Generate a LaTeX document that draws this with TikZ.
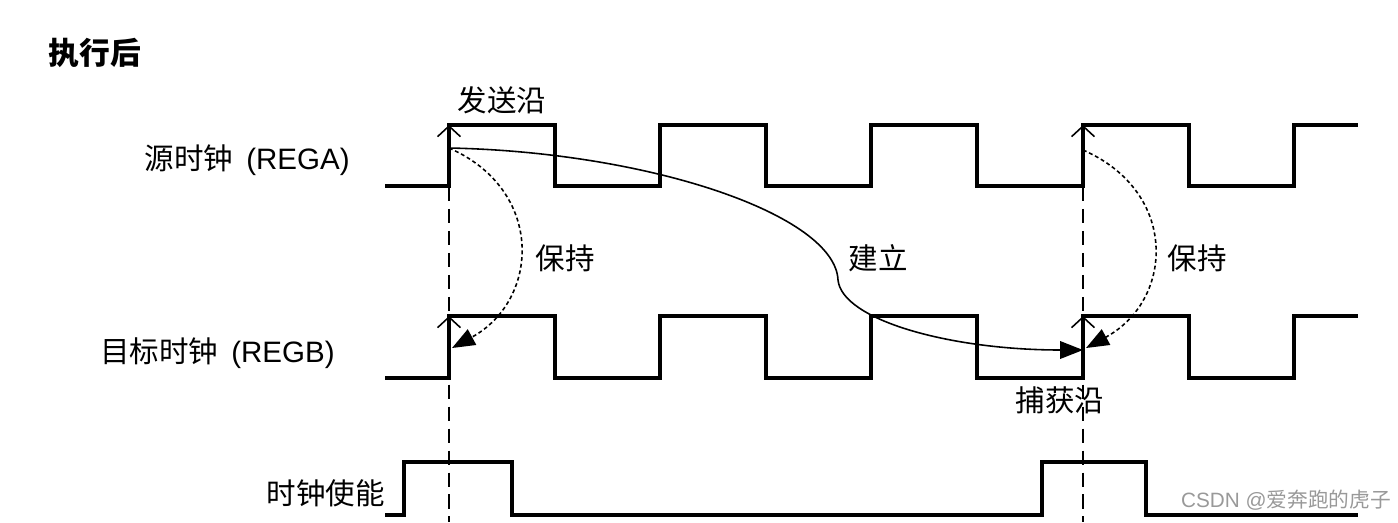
\documentclass[tikz,border=0pt]{standalone}
\usepackage{fontspec}
\setmainfont{Liberation Sans}
\newfontfamily\cjk{Noto Sans CJK SC}
\usetikzlibrary{arrows.meta,calc}

\begin{document}
\begin{tikzpicture}[x=0.02cm,y=-0.02cm,
  wave/.style={line width=1.9pt,line join=miter},
  edgemark/.style={-{Straight Barb[length=6pt,width=13pt]},line width=0.9pt},
  guide/.style={line width=0.9pt,dash pattern=on 8pt off 4.5pt},
  holdarc/.style={line width=0.9pt,dash pattern=on 2.2pt off 1.6pt,-{Triangle[length=13pt,width=10pt]}},
  setuparc/.style={line width=0.9pt,-{Triangle[length=13pt,width=10pt]}},
  lbl/.style={font=\fontsize{16.8}{18}\selectfont,inner sep=0pt}]
\useasboundingbox (0,0) rectangle (1398,522);

% clock waveforms
\foreach \lo/\hi in {186/125,378/316} {
  \draw[wave] (385,\lo) foreach \x in {449,660,871,1083} {
      -- (\x,\lo) -- (\x,\hi) -- (\x+106,\hi) -- (\x+106,\lo)}
    -- (1294,\lo) -- (1294,\hi) -- (1358,\hi);
  \foreach \x in {449,1083} {\draw[edgemark] (\x,\lo) -- (\x,\hi);};
};
% clock enable
\draw[wave] (385,515) -- (404,515) -- (404,462) -- (512,462) -- (512,515)
  -- (1042,515) -- (1042,462) -- (1146,462) -- (1146,515) -- (1358,515);

% edge guides
\foreach \x in {449,1083} {\draw[guide] (\x,187) -- (\x,522);};

% labels
\node[lbl,font=\fontsize{17.5}{18}\selectfont\cjk\bfseries] (title) at (95,53) {执行后};
\node[lbl] (launchlbl) at (502,100) {\cjk 发送沿};
\node[lbl,anchor=east] (regalbl) at (350,160) {{\cjk 源时钟}\, (REGA)};
\node[lbl,anchor=east] (regblbl) at (335,353) {{\cjk 目标时钟}\, (REGB)};
\node[lbl,anchor=east] (enlbl) at (385,493) {\cjk 时钟使能};
\node[lbl] (hold1) at (565,258) {\cjk 保持};
\node[lbl] (setuplbl) at (878,258) {\cjk 建立};
\node[lbl] (hold2) at (1197,258) {\cjk 保持};
\node[lbl] (capturelbl) at (1060,400) {\cjk 捕获沿};
\node[lbl,font=\fontsize{11.8}{13}\selectfont,text=black!40] (mark) at (1286,500) {CSDN @{\cjk 爱奔跑的虎子}};

% launch / capture points
\coordinate (launchA) at (449,148);
\coordinate (holdB) at (452,348);
\coordinate (kink) at (838,280);
\coordinate (captureB) at (1083,350);
\coordinate (nextA) at (1083,150);
\coordinate (nextB) at (1086,348);

\draw[setuparc] (launchA) .. controls (650,152) and (835,215) .. (kink)
  .. controls (842,320) and (950,350) .. (captureB);
\draw[holdarc] (launchA) .. controls (545,190) and (540,300) .. (holdB);
\draw[holdarc] (nextA) .. controls (1179,192) and (1174,300) .. (nextB);
\end{tikzpicture}
\end{document}
